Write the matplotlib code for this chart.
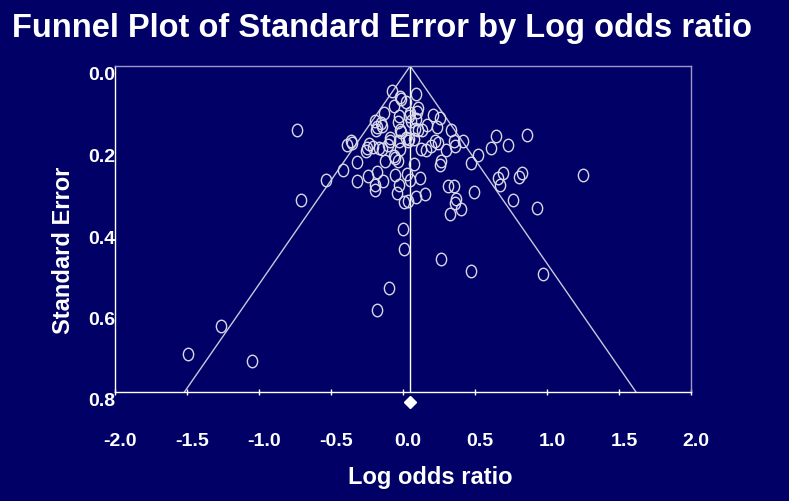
import matplotlib
matplotlib.use("Agg")
import matplotlib.pyplot as plt
import matplotlib.transforms as mtransforms
import numpy as np
from matplotlib.path import Path
from matplotlib.transforms import Affine2D

# study estimates: log odds ratio and its standard error
log_odds = [
    -0.076, 0.088, -0.024, -0.017, 0.024, -0.063, 0.101, 0.094, 0.047, 0.042,
    -0.031, -0.132, -0.035, 0.090, 0.059, -0.191, -0.156, -0.149, -0.184, -0.188,
    0.208, 0.257, 0.170, 0.234, -0.024, -0.014, 0.081, 0.106, 0.132, 0.330,
    -0.736, -0.088, -0.090, 0.021, 0.045, 0.074, -0.026, 0.033, -0.234, -0.252,
    -0.257, -0.361, -0.387, -0.351, -0.206, -0.169, -0.146, -0.102, -0.019, 0.222,
    0.241, 0.352, 0.359, 0.415, 0.297, 0.123, 0.160, 0.191, 0.519, -0.065,
    -0.056, 0.648, 0.729, 0.609, 0.861, 0.470, 0.267, 0.257, 0.078, -0.122,
    -0.317, -0.419, -0.535, -0.240, -0.183, -0.139, -0.319, -0.191, -0.194, -0.058,
    0.031, 0.049, 0.117, -0.028, -0.042, 0.155, 0.090, 0.038, 0.007, 0.313,
    0.354, 0.370, 0.361, 0.406, 0.326, 0.492, 0.662, 0.674, 0.694, 0.767,
    0.809, 0.826, 0.931, 1.248, -0.705, -0.033, 0.002, 0.007, 0.264, 0.472,
    0.972, -0.095, -0.181, -1.493, -1.267, -1.051,
]
std_err = [
    0.061, 0.069, 0.076, 0.082, 0.088, 0.098, 0.104, 0.112, 0.115, 0.123,
    0.123, 0.115, 0.137, 0.130, 0.135, 0.136, 0.140, 0.147, 0.150, 0.156,
    0.121, 0.128, 0.144, 0.150, 0.157, 0.163, 0.155, 0.156, 0.157, 0.156,
    0.157, 0.177, 0.184, 0.176, 0.178, 0.178, 0.185, 0.184, 0.191, 0.200,
    0.208, 0.183, 0.193, 0.188, 0.198, 0.202, 0.204, 0.194, 0.204, 0.183,
    0.188, 0.183, 0.197, 0.183, 0.206, 0.204, 0.207, 0.196, 0.219, 0.220,
    0.226, 0.173, 0.193, 0.202, 0.169, 0.238, 0.233, 0.242, 0.240, 0.233,
    0.236, 0.256, 0.279, 0.269, 0.261, 0.283, 0.283, 0.293, 0.304, 0.267,
    0.265, 0.280, 0.275, 0.293, 0.312, 0.313, 0.321, 0.331, 0.333, 0.294,
    0.294, 0.326, 0.337, 0.351, 0.364, 0.308, 0.274, 0.292, 0.263, 0.330,
    0.272, 0.263, 0.348, 0.268, 0.328, 0.234, 0.401, 0.448, 0.474, 0.504,
    0.510, 0.544, 0.598, 0.706, 0.637, 0.725,
]
pooled = 0.05
se_max = 0.8
diamond_se = 0.825
x_ticks = [-2.0, -1.5, -1.0, -0.5, 0.0, 0.5, 1.0, 1.5, 2.0]
y_ticks = [0.0, 0.2, 0.4, 0.6, 0.8]

BG = "#000066"
FAINT = "#9a9ac8"
plt.rcParams["font.family"] = ["Liberation Sans", "DejaVu Sans"]
plt.rcParams["font.weight"] = "bold"

fig = plt.figure(figsize=(7.89, 5.02), dpi=100, facecolor=BG)
ax = fig.add_axes([115 / 789, 1 - 393 / 502, 576 / 789, 326 / 502], facecolor=BG)

# funnel (pseudo 95% limits) and pooled line
se_line = np.array([0.0, se_max])
ax.plot(pooled - 1.96 * se_line, se_line, color="#c8c8e0", lw=1)
ax.plot(pooled + 1.96 * se_line, se_line, color="#c8c8e0", lw=1)
ax.plot([pooled, pooled], [0, se_max], color="white", lw=1)

# slightly tall open circles like the original
ellipse = Path.unit_circle().transformed(Affine2D().scale(0.82, 1.0))
ax.plot(log_odds, std_err, linestyle="none", marker=ellipse, ms=9,
        mfc="none", mec="#d8d8e8", mew=1)
ax.plot([pooled], [diamond_se], marker="D", ms=6, color="white",
        linestyle="none", clip_on=False)

ax.set_xlim(-2, 2)
ax.set_ylim(se_max, 0)
ax.set_xticks(x_ticks)
ax.set_yticks(y_ticks)
ax.set_xticklabels([f"{t:.1f}" for t in x_ticks])
ax.set_yticklabels([f"{t:.1f}" for t in y_ticks])
ax.tick_params(axis="x", direction="inout", length=5, width=1, color="white",
               labelcolor="white", labelsize=14, pad=26)
ax.tick_params(axis="y", length=0, labelcolor="white", labelsize=14, pad=0)

for lab in ax.get_yticklabels():
    lab.set_fontweight("bold")
    lab.set_transform(lab.get_transform() + mtransforms.ScaledTranslation(0, -7 / 100, fig.dpi_scale_trans))
for lab in ax.get_xticklabels():
    lab.set_fontweight("bold")
    lab.set_transform(lab.get_transform() + mtransforms.ScaledTranslation(5 / 100, 0, fig.dpi_scale_trans))

for side in ["left", "bottom"]:
    ax.spines[side].set_color("white")
for side in ["top", "right"]:
    ax.spines[side].set_color(FAINT)
for sp in ax.spines.values():
    sp.set_linewidth(1)

# axis titles sit a bit off-centre in the original
fig.text(430 / 789, 1 - 478 / 502, "Log odds ratio", color="white", fontsize=17,
         fontweight="bold", ha="center", va="center")
fig.text(64 / 789, 1 - 250 / 502, "Standard Error", color="white", fontsize=17,
         fontweight="bold", ha="center", va="center", rotation=90)

fig.text(12 / 789, 1 - 28 / 502, "Funnel Plot of Standard Error by Log odds ratio",
         color="white", fontsize=23.5, fontweight="bold", ha="left", va="center")

fig.savefig("out.png", dpi=100, facecolor=BG)
